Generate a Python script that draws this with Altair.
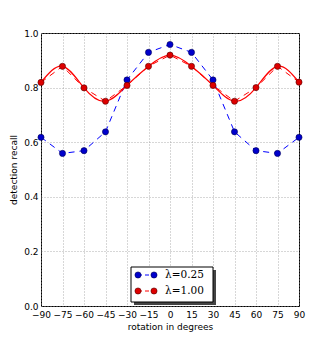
import altair as alt
import pandas as pd

# ---- data ----
angles = [-90, -75, -60, -45, -30, -15, 0, 15, 30, 45, 60, 75, 90]
recall_025 = [0.618, 0.559, 0.569, 0.638, 0.828, 0.929, 0.958, 0.929, 0.828, 0.638, 0.569, 0.559, 0.618]
recall_100 = [0.819, 0.878, 0.799, 0.750, 0.808, 0.878, 0.919, 0.878, 0.808, 0.750, 0.800, 0.878, 0.820]
series_labels = ["λ=0.25", "λ=1.00"]
x_ticks = [-90, -75, -60, -45, -30, -15, 0, 15, 30, 45, 60, 75, 90]
y_ticks = [0.0, 0.2, 0.4, 0.6, 0.8, 1.0]

BLUE_LINE, BLUE_FILL, BLUE_EDGE = "#0000ff", "#0000cc", "#000055"
RED_LINE, RED_FILL, RED_EDGE = "#ff0000", "#dd0000", "#550000"

df_b = pd.DataFrame({"angle": angles, "recall": recall_025})
df_r = pd.DataFrame({"angle": angles, "recall": recall_100})

W, H = 258, 273

x_enc = alt.X("angle:Q", scale=alt.Scale(domain=[-90, 90], nice=False, zero=False),
              axis=alt.Axis(values=x_ticks, title="rotation in degrees", format="d",
                            labelOverlap=False, labelFlush=False, labelBound=False))
y_enc = alt.Y("recall:Q", scale=alt.Scale(domain=[0, 1], nice=False),
              axis=alt.Axis(values=y_ticks, title="detection recall", format=".1f",
                            labelOverlap=False, labelFlush=False))

blue_line = alt.Chart(df_b).mark_line(color=BLUE_LINE, strokeWidth=1, strokeDash=[6, 5]).encode(x=x_enc, y=y_enc)
blue_pts = alt.Chart(df_b).mark_circle(size=38, fill=BLUE_FILL, stroke=BLUE_EDGE, strokeWidth=0.6, opacity=1).encode(x=x_enc, y=y_enc)
red_fit = alt.Chart(df_r).mark_line(color=RED_LINE, strokeWidth=1.2, interpolate="natural").encode(x=x_enc, y=y_enc)
red_line = alt.Chart(df_r).mark_line(color=RED_LINE, strokeWidth=1, strokeDash=[6, 5]).encode(x=x_enc, y=y_enc)
red_pts = alt.Chart(df_r).mark_circle(size=38, fill=RED_FILL, stroke=RED_EDGE, strokeWidth=0.6, opacity=1).encode(x=x_enc, y=y_enc)

# ---- hand-made legend (matplotlib style, with shadow) ----
one = pd.DataFrame({"k": [0]})
bx0, bx1, by0, by1 = 90, 172, 234, 269
shadow = alt.Chart(one).mark_rect(fill="#444444").encode(
    x=alt.value(bx0 + 3), x2=alt.value(bx1 + 3), y=alt.value(by0 + 3), y2=alt.value(by1 + 3))
box = alt.Chart(one).mark_rect(fill="white", stroke="black", strokeWidth=1).encode(
    x=alt.value(bx0), x2=alt.value(bx1), y=alt.value(by0), y2=alt.value(by1))

legend_layers = [shadow, box]
for lab, yy, lc, fc, ec in [(series_labels[0], 242, BLUE_LINE, BLUE_FILL, BLUE_EDGE),
                            (series_labels[1], 258, RED_LINE, RED_FILL, RED_EDGE)]:
    d = pd.DataFrame({"label": [lab]})
    legend_layers.append(alt.Chart(d).mark_rule(color=lc, strokeWidth=1, strokeDash=[4, 3]).encode(
        x=alt.value(97), x2=alt.value(113), y=alt.value(yy)))
    for xx in (97, 113):
        legend_layers.append(alt.Chart(d).mark_circle(size=38, fill=fc, stroke=ec, strokeWidth=0.6, opacity=1).encode(
            x=alt.value(xx), y=alt.value(yy)))
    legend_layers.append(alt.Chart(d).mark_text(align="left", baseline="middle", font="DejaVu Serif",
                                                fontSize=10.5, color="black").encode(
        x=alt.value(124), y=alt.value(yy), text="label:N"))

chart = alt.layer(blue_line, red_line, red_fit, blue_pts, red_pts, *legend_layers).properties(
    width=W, height=H,
    autosize=alt.AutoSizeParams(type="none"),
    padding={"left": 33, "top": 25, "right": 25, "bottom": 27},
).configure_view(stroke="black", strokeWidth=1).configure_axis(
    grid=True, gridColor="#999999", gridDash=[1, 2], gridWidth=0.8,
    domain=False, ticks=False,
    labelFont="DejaVu Sans", labelFontSize=9, labelColor="black",
    titleFont="DejaVu Sans", titleFontSize=9, titleFontWeight="normal", titleColor="black",
).configure_axisX(labelPadding=4, titlePadding=3).configure_axisY(labelPadding=3, titlePadding=5)

chart.save("out.html", embed_options={"renderer": "svg", "actions": False})
